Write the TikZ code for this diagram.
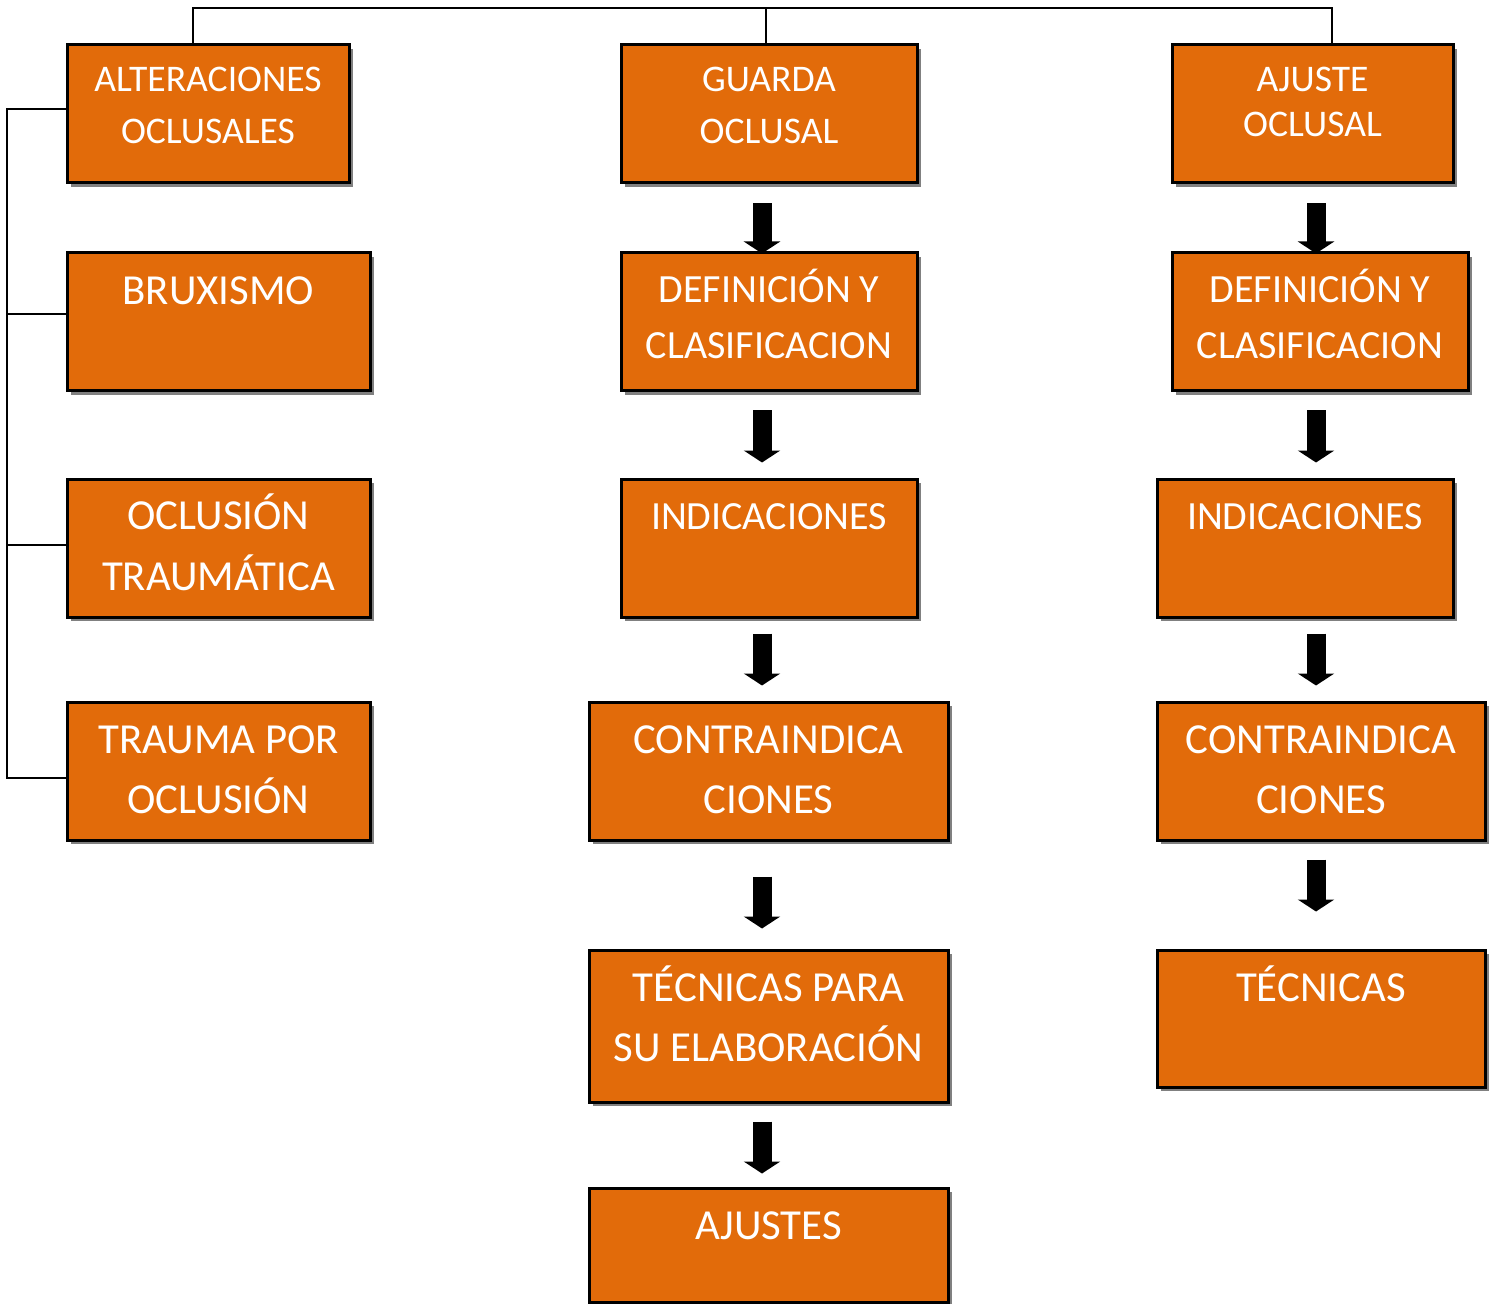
\documentclass[tikz,border=0pt]{standalone}
\usepackage{fontspec}
\setmainfont{Carlito}
\usetikzlibrary{arrows.meta,shadows,calc}
\definecolor{boxorange}{HTML}{E26B0A}
\definecolor{shadowgray}{HTML}{808080}
\tikzset{
  box/.style={draw=black, line width=1.5pt, fill=boxorange, inner sep=0pt,
    drop shadow={shadow xshift=2.2pt, shadow yshift=-2.2pt, fill=shadowgray, opacity=1}},
  txt/.style={text=white, align=center, inner sep=0pt, anchor=base},
  small/.style={font=\fontsize{18.8}{26}\selectfont},
  big/.style={font=\fontsize{21.4}{30}\selectfont},
  mid/.style={font=\fontsize{20}{28}\selectfont},
  conn/.style={draw=black, line width=1pt},
  barrow/.style={draw=black, line width=9.5pt, -{Triangle[width=18pt,length=6pt]}},
}
\newcommand\mybox[5]{\node[box, minimum width={(#4-#2)*0.5pt}, minimum height={(#5-#3)*0.5pt}] (#1) at ({(#2+#4)/2},{(#3+#5)/2}) {};}
\begin{document}
\begin{tikzpicture}[x=0.5pt,y=-0.5pt]
\useasboundingbox[fill=white] (0,0) rectangle (1502,1304);
% left column
\mybox{alt}{67}{45}{349}{183}
\mybox{brux}{67}{253}{370}{391}
\mybox{otr}{67}{479}{370}{617}
\mybox{tpo}{67}{702}{370}{840}
% middle column
\mybox{guo}{621}{45}{917}{183}
\mybox{gdef}{621}{253}{917}{391}
\mybox{gind}{621}{479}{917}{617}
\mybox{gcon}{589}{702}{948}{840}
\mybox{gtec}{589}{950}{948}{1102}
\mybox{gaju}{589}{1188}{948}{1302}
% right column
\mybox{ajo}{1172}{45}{1453}{183}
\mybox{adef}{1172}{253}{1468}{391}
\mybox{aind}{1157}{479}{1453}{617}
\mybox{acon}{1157}{702}{1485}{840}
\mybox{atec}{1157}{950}{1485}{1087}
% texts (anchor base = baseline of last line)
\node[txt, small] (alt-t) at (alt |- 0,144) {ALTERACIONES\\OCLUSALES};
\node[txt, big] (brux-t) at (brux |- 0,305) {BRUXISMO};
\node[txt, big, font=\fontsize{21.4}{30.5}\selectfont] (otr-t) at (otr |- 0,590) {OCLUSIÓN\\TRAUMÁTICA};
\node[txt, big] (tpo-t) at (tpo |- 0,813) {TRAUMA POR\\OCLUSIÓN};
\node[txt, small] (guo-t) at (guo |- 0,144) {GUARDA\\OCLUSAL};
\node[txt, mid] (gdef-t) at (gdef |- 0,359) {DEFINICIÓN Y\\CLASIFICACION};
\node[txt, mid] (gind-t) at (gind |- 0,529) {INDICACIONES};
\node[txt, big] (gcon-t) at (gcon |- 0,813) {CONTRAINDICA\\CIONES};
\node[txt, big] (gtec-t) at (gtec |- 0,1061) {TÉCNICAS PARA\\SU ELABORACIÓN};
\node[txt, big] (gaju-t) at (gaju |- 0,1239) {AJUSTES};
\node[txt, small, font=\fontsize{18.8}{22.5}\selectfont] (ajo-t) at (ajo |- 0,137) {AJUSTE\\OCLUSAL};
\node[txt, mid] (adef-t) at (adef |- 0,359) {DEFINICIÓN Y\\CLASIFICACION};
\node[txt, mid] (aind-t) at (aind |- 0,529) {INDICACIONES};
\node[txt, big] (acon-t) at (acon |- 0,813) {CONTRAINDICA\\CIONES};
\node[txt, big] (atec-t) at (atec |- 0,1001) {TÉCNICAS};
% connectors top
\draw[conn] (193,0 |- alt.north) -- (193,8) -- (1332,8) -- (1332,0 |- ajo.north);
\draw[conn] (766,8) -- (766,0 |- guo.north);
% connectors left
\draw[conn] (alt.west |- 0,109) -- (7,109) -- (7,778) -- (tpo.west |- 0,778);
\draw[conn] (7,314) -- (brux.west |- 0,314);
\draw[conn] (7,545) -- (otr.west |- 0,545);
% block arrows middle
\draw[barrow] ($(762,0 |- guo.south)+(0,19)$) -- ++(0,50);
\draw[barrow] ($(762,0 |- gdef.south)+(0,18)$) -- ++(0,52);
\draw[barrow] ($(762,0 |- gind.south)+(0,15)$) -- ++(0,52);
\draw[barrow] ($(762,0 |- gcon.south)+(0,35)$) -- ++(0,52);
\draw[barrow] ($(762,0 |- gtec.south)+(0,18)$) -- ++(0,52);
% block arrows right
\draw[barrow] ($(1316,0 |- ajo.south)+(0,19)$) -- ++(0,50);
\draw[barrow] ($(1316,0 |- adef.south)+(0,18)$) -- ++(0,52);
\draw[barrow] ($(1316,0 |- aind.south)+(0,15)$) -- ++(0,52);
\draw[barrow] ($(1316,0 |- acon.south)+(0,18)$) -- ++(0,52);
\end{tikzpicture}
\end{document}
